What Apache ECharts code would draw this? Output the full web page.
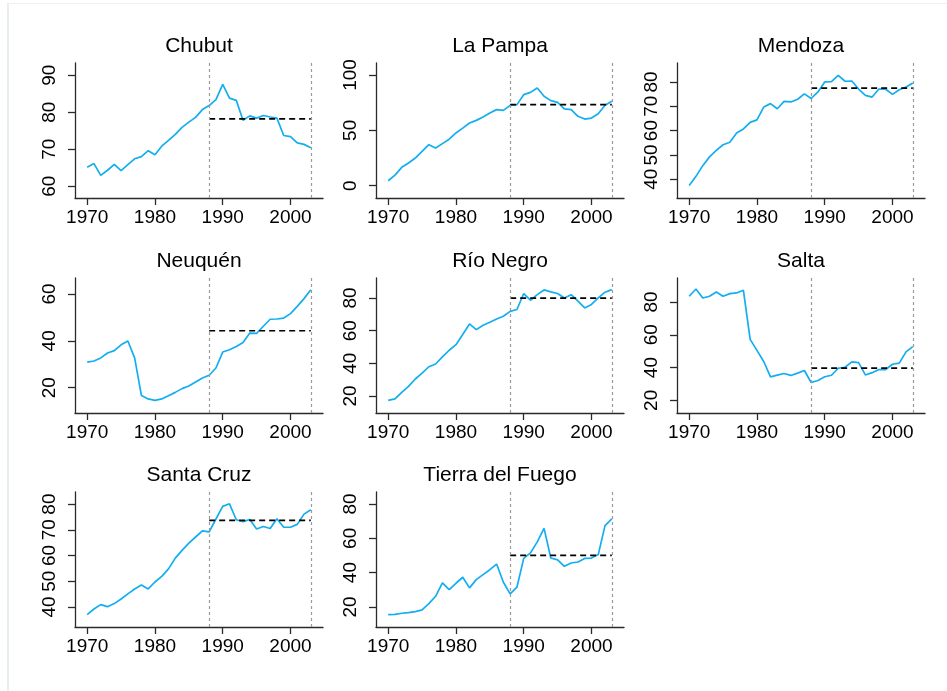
<!DOCTYPE html>
<html>
<head>
<meta charset="utf-8">
<script src="https://cdn.jsdelivr.net/npm/echarts@6/dist/echarts.min.js"></script>
<style>
html, body { margin: 0; padding: 0; background: #fff; }
#frame { position: absolute; left: 7px; top: 3px; right: 0; bottom: 0; border-left: 2px solid #e8edef; border-top: 1px solid #edf1f2; }
#chart { position: absolute; left: 0; top: 0; width: 947px; height: 691px; }
</style>
</head>
<body>
<div id="frame"></div>
<div id="chart"></div>
<script>
// --- data ---
const years = [1970, 1971, 1972, 1973, 1974, 1975, 1976, 1977, 1978, 1979,
               1980, 1981, 1982, 1983, 1984, 1985, 1986, 1987, 1988, 1989,
               1990, 1991, 1992, 1993, 1994, 1995, 1996, 1997, 1998, 1999,
               2000, 2001, 2002, 2003];

const provinceNames = ['Chubut', 'La Pampa', 'Mendoza', 'Neuquén', 'Río Negro', 'Salta', 'Santa Cruz', 'Tierra del Fuego'];

const chubut = [65.1, 66.1, 62.9, 64.3, 65.9, 64.2, 65.8, 67.4, 68.0, 69.6,
                68.5, 70.8, 72.4, 74.0, 75.9, 77.3, 78.6, 80.7, 81.8, 83.4,
                87.5, 83.8, 83.2, 77.8, 79.0, 78.4, 79.1, 78.7, 78.4, 73.7,
                73.4, 71.7, 71.3, 70.4];
const laPampa = [4.5, 9.6, 16.6, 20.5, 25.0, 31.0, 37.0, 34.0, 38.0, 42.0,
                 47.6, 52.0, 56.6, 59.0, 62.0, 65.7, 68.7, 68.0, 72.6, 73.2,
                 82.2, 84.3, 88.3, 80.7, 76.8, 75.3, 69.3, 68.7, 62.7, 60.2,
                 61.1, 65.0, 72.6, 76.2];
const mendoza = [37.4, 41.2, 45.6, 49.2, 51.9, 54.2, 55.2, 59.0, 60.7, 63.4,
                 64.4, 69.7, 71.1, 69.0, 72.0, 71.8, 72.9, 75.1, 73.2, 75.9,
                 80.0, 80.1, 82.7, 80.3, 80.4, 77.1, 74.5, 73.8, 77.1, 77.0,
                 74.9, 76.8, 77.9, 79.6];
const neuquen = [30.9, 31.4, 32.7, 34.8, 35.8, 38.3, 39.9, 32.7, 16.7, 15.2,
                 14.6, 15.2, 16.6, 18.0, 19.6, 20.7, 22.4, 24.1, 25.3, 28.4,
                 35.2, 36.2, 37.6, 39.3, 43.3, 43.2, 46.2, 49.2, 49.3, 49.7,
                 51.6, 54.7, 58.0, 61.8];
const rioNegro = [17.3, 18.2, 22.2, 25.9, 30.4, 34.0, 37.9, 39.6, 43.9, 48.0,
                  51.4, 57.6, 64.1, 60.6, 63.3, 65.1, 67.1, 68.8, 71.8, 72.9,
                  82.7, 78.6, 82.0, 84.9, 83.7, 82.7, 80.0, 82.0, 78.0, 73.9,
                  76.0, 80.0, 83.5, 85.1];
const salta = [83.5, 87.9, 82.4, 83.5, 86.1, 83.5, 85.1, 85.5, 87.1, 57.2,
               50.5, 43.7, 34.3, 35.4, 36.4, 35.2, 36.6, 38.2, 30.9, 32.1,
               34.4, 35.3, 39.6, 40.2, 43.5, 43.0, 35.5, 36.9, 38.8, 38.8,
               42.0, 42.7, 49.6, 52.8];
const santaCruz = [37.0, 39.2, 40.9, 40.1, 41.3, 43.1, 45.1, 47.0, 48.5, 47.0,
                   49.7, 51.9, 54.8, 59.0, 62.0, 64.8, 67.2, 69.6, 69.2, 74.2,
                   79.1, 80.1, 73.9, 73.2, 74.0, 70.3, 71.3, 70.5, 74.3, 71.0,
                   71.0, 72.1, 76.1, 77.8];
const tierraDelFuego = [15.5, 15.7, 16.3, 16.7, 17.3, 18.3, 21.9, 26.2, 34.0, 30.1,
                        33.8, 37.3, 31.1, 35.9, 38.8, 41.7, 45.0, 34.4, 27.6, 31.5,
                        48.3, 51.5, 57.9, 65.8, 48.5, 47.4, 43.7, 45.6, 46.2, 48.3,
                        48.5, 50.5, 67.4, 71.3];

// post-1988 average (dashed black line)
const postMeans = [78.2, 73.2, 77.5, 44.3, 79.9, 39.6, 73.7, 50.1];
const meanStart = 1988;
const meanEnd = 2003;
const markYears = [1988, 2003];

const xTicks = [1970, 1980, 1990, 2000];
const yTicks = [
    [60, 70, 80, 90],
    [0, 50, 100],
    [40, 50, 60, 70, 80],
    [20, 40, 60],
    [20, 40, 60, 80],
    [20, 40, 60, 80],
    [40, 50, 60, 70, 80],
    [20, 40, 60, 80]
];
const yMins = [56.8, -11.1, 32.3, 9.2, 9.6, 12.3, 32.2, 8.3];
const yMaxs = [93.3, 110.8, 87.8, 66.8, 92.2, 94.6, 84.7, 87.0];

const provinceSeries = [chubut, laPampa, mendoza, neuquen, rioNegro, salta, santaCruz, tierraDelFuego];

// --- layout ---
const FONT = '"Liberation Sans", Arial, sans-serif';
const colLefts = [75, 376, 677];
const rowTops = [63, 278, 492];
const panelW = 248;
const panelH = 135;
const lineBlue = '#13AEF0';

const chart = echarts.init(document.getElementById('chart'), null, { renderer: 'canvas' });

const grids = [], xAxes = [], yAxes = [], series = [], titles = [];

provinceNames.forEach((name, i) => {
    const col = i % 3;
    const row = Math.floor(i / 3);
    const left = colLefts[col];
    const top = rowTops[row];

    grids.push({ left: left, top: top, width: panelW, height: panelH, containLabel: false });

    xAxes.push({
        type: 'value',
        gridIndex: i,
        min: 1968.2,
        max: 2004.8,
        splitLine: { show: false },
        axisLine: { show: true, onZero: false, lineStyle: { color: '#2a2a2a', width: 1.3 } },
        axisTick: { show: true, length: 7, customValues: xTicks, lineStyle: { color: '#2a2a2a', width: 1.3 } },
        axisLabel: {
            customValues: xTicks,
            margin: 10,
            color: '#000',
            fontSize: 19,
            fontFamily: FONT,
            formatter: v => String(v)
        }
    });

    yAxes.push({
        type: 'value',
        gridIndex: i,
        min: yMins[i],
        max: yMaxs[i],
        splitLine: { show: false },
        axisLine: { show: true, onZero: false, lineStyle: { color: '#2a2a2a', width: 1.3 } },
        axisTick: { show: true, length: 7, customValues: yTicks[i], lineStyle: { color: '#2a2a2a', width: 1.3 } },
        axisLabel: {
            customValues: yTicks[i],
            rotate: 90,
            margin: 16,
            color: '#000',
            fontSize: 19,
            fontFamily: FONT,
            formatter: v => String(v)
        }
    });

    series.push({
        type: 'line',
        xAxisIndex: i,
        yAxisIndex: i,
        data: years.map((y, k) => [y, provinceSeries[i][k]]),
        symbol: 'none',
        lineStyle: { color: lineBlue, width: 1.7 },
        silent: true,
        markLine: {
            silent: true,
            symbol: 'none',
            label: { show: false },
            lineStyle: { color: '#9a9a9a', type: [3, 3], width: 1.2 },
            data: markYears.map(y => ({ xAxis: y }))
        },
        z: 3
    });

    series.push({
        type: 'line',
        xAxisIndex: i,
        yAxisIndex: i,
        data: [[meanStart, postMeans[i]], [meanEnd, postMeans[i]]],
        symbol: 'none',
        lineStyle: { color: '#000', type: [6, 4], width: 1.7 },
        silent: true,
        z: 4
    });

    titles.push({
        type: 'text',
        x: left + panelW / 2,
        y: top - 17,
        silent: true,
        style: {
            text: name,
            textAlign: 'center',
            textVerticalAlign: 'middle',
            font: '21px ' + FONT,
            fill: '#000'
        }
    });
});

chart.setOption({
    animation: false,
    grid: grids,
    xAxis: xAxes,
    yAxis: yAxes,
    series: series,
    graphic: titles
});
</script>
</body>
</html>
